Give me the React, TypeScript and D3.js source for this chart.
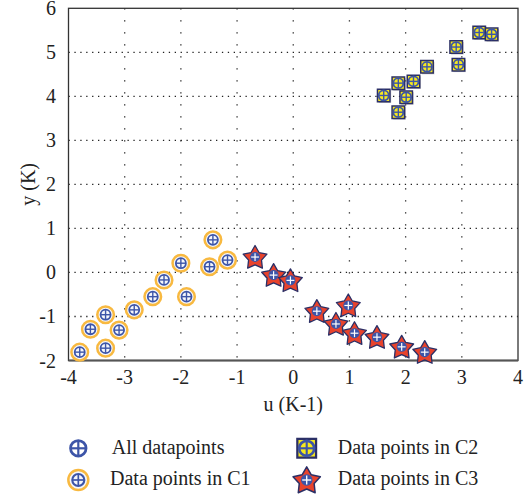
import React from 'react';
import * as d3 from 'd3';

// cluster C1 (orange rings)
const c1U = [-3.80, -3.61, -3.34, -3.34, -3.10, -2.83, -2.50, -2.30, -2.00, -1.90, -1.49, -1.43, -1.17];
const c1Y = [-1.81, -1.29, -1.72, -0.96, -1.31, -0.85, -0.55, -0.17, 0.21, -0.55, 0.13, 0.74, 0.28];
// cluster C2 (yellow squares)
const c2U = [1.61, 1.87, 1.87, 2.01, 2.14, 2.38, 2.90, 2.94, 3.31, 3.53];
const c2Y = [4.02, 4.30, 3.64, 3.98, 4.34, 4.67, 5.12, 4.72, 5.45, 5.41];
// cluster C3 (red stars)
const c3U = [-0.68, -0.35, -0.05, 0.42, 0.76, 0.98, 1.09, 1.49, 1.93, 2.34];
const c3Y = [0.35, -0.06, -0.18, -0.88, -1.17, -0.75, -1.38, -1.47, -1.69, -1.81];

const xTicks = [-4, -3, -2, -1, 0, 1, 2, 3, 4];
const yTicks = [-2, -1, 0, 1, 2, 3, 4, 5, 6];

const blue = '#3d55a8';
const orange = '#f8b940';
const yellow = '#f6e81e';
const red = '#e8432c';
const navy = '#2b2f66';
const font = '"Liberation Serif", "DejaVu Serif", serif';
const fs = 20;

// fat five-point star, built with a closed radial line
const starPts: [number, number][] = d3.range(10).map((i) => [(i * Math.PI) / 5, i % 2 === 0 ? 12.5 : 6.8]);
const starPath = d3.lineRadial().curve(d3.curveLinearClosed)(starPts)!;
const squarePath = d3.symbol(d3.symbolSquare, 156)()!;

type P = { x: number; y: number; k?: number };

// small crosshair circle used for every datapoint
const Cross = ({ x, y, k = 1, fill = 'none', plus = blue }: P & { fill?: string; plus?: string }) => (
  <g transform={`translate(${x},${y}) scale(${k})`}>
    <circle r={5} fill={fill} stroke={blue} strokeWidth={1.8} />
    <line x1={-4.6} x2={4.6} stroke={plus} strokeWidth={1.4} />
    <line y1={-4.6} y2={4.6} stroke={plus} strokeWidth={1.4} />
  </g>
);

const Ring = ({ x, y, k = 1 }: P) => (
  <g>
    <circle cx={x} cy={y} r={8.3 * k} fill="#f4f6fb" stroke={orange} strokeWidth={2.5} />
    <Cross x={x} y={y} k={k} />
  </g>
);

const Square = ({ x, y, k = 1, shadow = true }: P & { shadow?: boolean }) => (
  <g>
    {shadow && <path transform={`translate(${x + 1.2},${y + 1.2})`} d={squarePath} fill="#8a8a8a" opacity={0.5} />}
    <path transform={`translate(${x},${y}) scale(${k})`} d={squarePath} fill={yellow} stroke={navy} strokeWidth={1.5} />
    <Cross x={x} y={y} k={k} />
  </g>
);

const Star = ({ x, y, k = 1 }: P) => (
  <g>
    <path transform={`translate(${x},${y + 1 * k}) scale(${k})`} d={starPath} fill={red} stroke={navy} strokeWidth={1.3} strokeLinejoin="round" />
    <Cross x={x} y={y} k={k * 0.85} fill={blue} plus="white" />
  </g>
);

const App = () => {
  const width = 531;
  const height = 497;
  const margin = { left: 68.5, right: 13, top: 8.3, bottom: 136.5 };

  const xScale = d3.scaleLinear().domain([-4, 4]).range([margin.left, width - margin.right]);
  const yScale = d3.scaleLinear().domain([-2, 6]).range([height - margin.bottom, margin.top]);

  const x0 = xScale(-4), x1 = xScale(4), y0 = yScale(-2), y1 = yScale(6);

  return (
    <svg width={width} height={height} style={{ position: 'absolute', left: 0, top: 0, background: 'white' }}>
      {/* grid */}
      {xTicks.slice(1, -1).map((t) => (
        <line key={'gx' + t} x1={xScale(t)} x2={xScale(t)} y1={y1} y2={y0} stroke="#222" strokeWidth={1.3} strokeDasharray="1.3,10.7" />
      ))}
      {yTicks.slice(1, -1).map((t) => (
        <line key={'gy' + t} x1={x0} x2={x1} y1={yScale(t)} y2={yScale(t)} stroke="#222" strokeWidth={1.3} strokeDasharray="1.3,4.6" />
      ))}

      {/* frame */}
      <rect x={x0} y={y1} width={x1 - x0} height={y0 - y1} fill="none" stroke="#333" strokeWidth={1.3} />
      <line x1={x0} x2={x1} y1={y0} y2={y0} stroke="#555" strokeWidth={2} />

      {/* tick labels */}
      {xTicks.map((t) => (
        <text key={'tx' + t} x={xScale(t)} y={y0 + 23.5} textAnchor="middle" fontFamily={font} fontSize={fs} fill="#222">{t}</text>
      ))}
      {yTicks.map((t) => (
        <text key={'ty' + t} x={56} y={yScale(t) + 7} textAnchor="end" fontFamily={font} fontSize={fs} fill="#222">{t}</text>
      ))}

      <text x={(x0 + x1) / 2} y={411} textAnchor="middle" fontFamily={font} fontSize={fs} fill="#222">u (K-1)</text>
      <text transform={`translate(35,${(y0 + y1) / 2}) rotate(-90)`} textAnchor="middle" fontFamily={font} fontSize={fs} fill="#222">y (K)</text>

      {/* data */}
      {c1U.map((u, i) => <Ring key={'c1' + i} x={xScale(u)} y={yScale(c1Y[i])} />)}
      {c2U.map((u, i) => <Square key={'c2' + i} x={xScale(u)} y={yScale(c2Y[i])} />)}
      {c3U.map((u, i) => <Star key={'c3' + i} x={xScale(u)} y={yScale(c3Y[i])} />)}

      {/* legend */}
      <Cross x={78.3} y={448.3} k={1.55} fill="white" />
      <text x={111.7} y={453.5} fontFamily={font} fontSize={fs} fill="#222">All datapoints</text>
      <Ring x={78.3} y={480} k={1.2} />
      <text x={110} y={485} fontFamily={font} fontSize={fs} fill="#222">Data points in C1</text>
      <Square x={306.7} y={448.3} k={1.5} shadow={false} />
      <text x={337.7} y={453.5} fontFamily={font} fontSize={fs} fill="#222">Data points in C2</text>
      <Star x={306.7} y={480} k={1.15} />
      <text x={337.7} y={485} fontFamily={font} fontSize={fs} fill="#222">Data points in C3</text>
    </svg>
  );
};

export default App;
